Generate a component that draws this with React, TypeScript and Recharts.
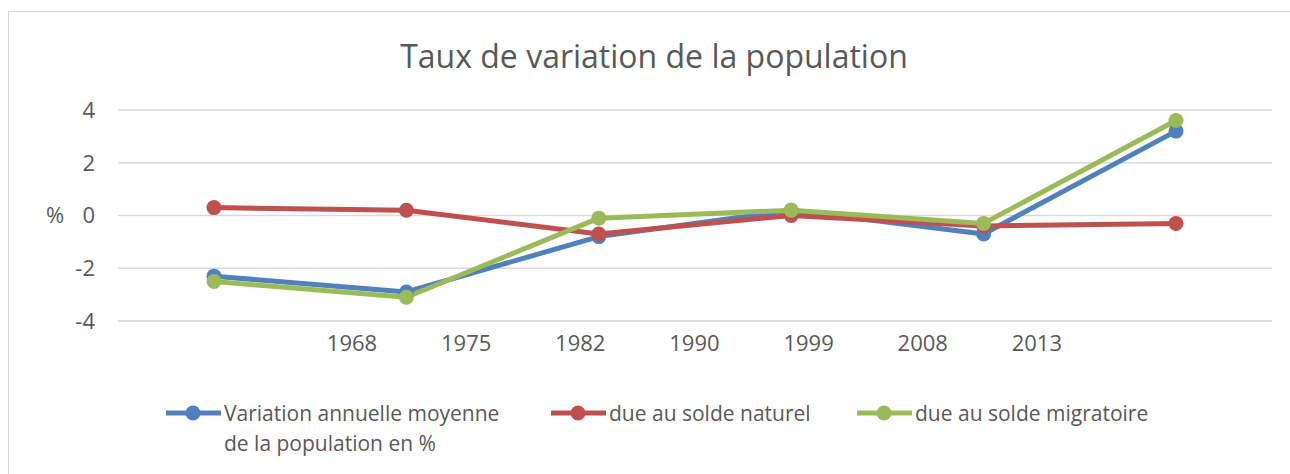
import React from "react";
import {
  LineChart,
  Line,
  XAxis,
  YAxis,
  CartesianGrid,
  Legend,
} from "recharts";

// six inter-census periods
const periods = ["1968-1975", "1975-1982", "1982-1990", "1990-1999", "1999-2008", "2008-2013"];
const variationAnnuelle = [-2.3, -2.9, -0.8, 0.2, -0.7, 3.2];
const soldeNaturel = [0.3, 0.2, -0.7, 0.0, -0.4, -0.3];
const soldeMigratoire = [-2.5, -3.1, -0.1, 0.2, -0.3, 3.6];

const yearLabels = ["1968", "1975", "1982", "1990", "1999", "2008", "2013"];
const yTicks = [-4, -2, 0, 2, 4];

const series = [
  { key: "variation", name: "Variation annuelle moyenne de la population en %", color: "#4f81bd" },
  { key: "naturel", name: "due au solde naturel", color: "#c0504d" },
  { key: "migratoire", name: "due au solde migratoire", color: "#9bbb59" },
];

const data = periods.map((p, i) => ({
  period: p,
  variation: variationAnnuelle[i],
  naturel: soldeNaturel[i],
  migratoire: soldeMigratoire[i],
}));

const FONT = "'Open Sans', sans-serif";
const TEXT = "#595959";
const GRID = "#d9d9d9";

function LegendIcon({ color }: { color: string }) {
  return (
    <svg width={55} height={30} style={{ flex: "none" }}>
      <line x1={0} y1={15} x2={55} y2={15} stroke={color} strokeWidth={5} strokeLinecap="round" />
      <circle cx={27} cy={15} r={7.5} fill={color} />
    </svg>
  );
}

function renderLegend() {
  const textWidths = [280, 248, 260];
  const gaps = [47, 0, 0];
  return (
    <div style={{ display: "flex", paddingLeft: 166, fontFamily: FONT, fontSize: 21, color: TEXT, lineHeight: "30px" }}>
      {series.map((s, i) => (
        <div key={s.key} style={{ display: "flex", alignItems: "flex-start", marginRight: gaps[i] }}>
          <LegendIcon color={s.color} />
          <div style={{ width: textWidths[i], marginLeft: 3, whiteSpace: i === 0 ? "normal" : "nowrap" }}>{s.name}</div>
        </div>
      ))}
    </div>
  );
}

export default function App() {
  return (
    <div style={{ position: "relative", width: 1290, height: 474, overflow: "hidden", background: "#fff", fontFamily: FONT }}>
      <style>{"body{margin:0;overflow:hidden}"}</style>
      <div
        style={{
          position: "absolute",
          left: 8,
          top: 11,
          width: 1320,
          height: 520,
          borderTop: `1px solid ${GRID}`,
          borderLeft: `1px solid ${GRID}`,
          boxSizing: "border-box",
        }}
      />
      <div
        style={{
          position: "absolute",
          left: 0,
          top: 40,
          width: 1308,
          textAlign: "center",
          fontSize: 32,
          lineHeight: "32px",
          color: TEXT,
        }}
      >
        Taux de variation de la population
      </div>
      <div style={{ position: "absolute", left: 0, top: 0 }}>
        <LineChart width={1290} height={474} data={data} margin={{ top: 110, right: 18, bottom: 113, left: 20 }}>
          <CartesianGrid xAxisId="main" vertical={false} stroke={GRID} strokeWidth={1.3} />
          <XAxis xAxisId="main" dataKey="period" type="category" padding={{ left: 96, right: 96 }} height={0} hide />
          <XAxis
            xAxisId="years"
            type="number"
            dataKey={(d: { period: string }) => periods.indexOf(d.period)}
            domain={[-2.05, 8.06]}
            allowDataOverflow
            ticks={[0, 1, 2, 3, 4, 5, 6]}
            interval={0}
            tickFormatter={(v: number) => yearLabels[v]}
            height={40}
            axisLine={{ stroke: GRID, strokeWidth: 1.3 }}
            tickLine={false}
            tickSize={0}
            tickMargin={14}
            tick={{ fontFamily: FONT, fontSize: 22, fill: TEXT }}
          />
          <YAxis
            domain={[-4, 4]}
            ticks={yTicks}
            width={98}
            axisLine={false}
            tickLine={false}
            tickSize={0}
            tickMargin={23}
            tick={{ fontFamily: FONT, fontSize: 22, fill: TEXT }}
            label={{ value: "%", position: "insideLeft", offset: 26, fill: TEXT, fontSize: 22, fontFamily: FONT }}
          />
          <Legend
            layout="horizontal"
            verticalAlign="middle"
            align="center"
            wrapperStyle={{ left: 0, top: 398, width: 1290 }}
            content={renderLegend}
          />
          {series.map((s) => (
            <Line
              key={s.key}
              xAxisId="main"
              type="linear"
              dataKey={s.key}
              name={s.name}
              stroke={s.color}
              strokeWidth={5}
              strokeLinejoin="round"
              dot={{ r: 7.5, fill: s.color, stroke: s.color, strokeWidth: 0 }}
              activeDot={false}
              isAnimationActive={false}
            />
          ))}
        </LineChart>
      </div>
    </div>
  );
}
